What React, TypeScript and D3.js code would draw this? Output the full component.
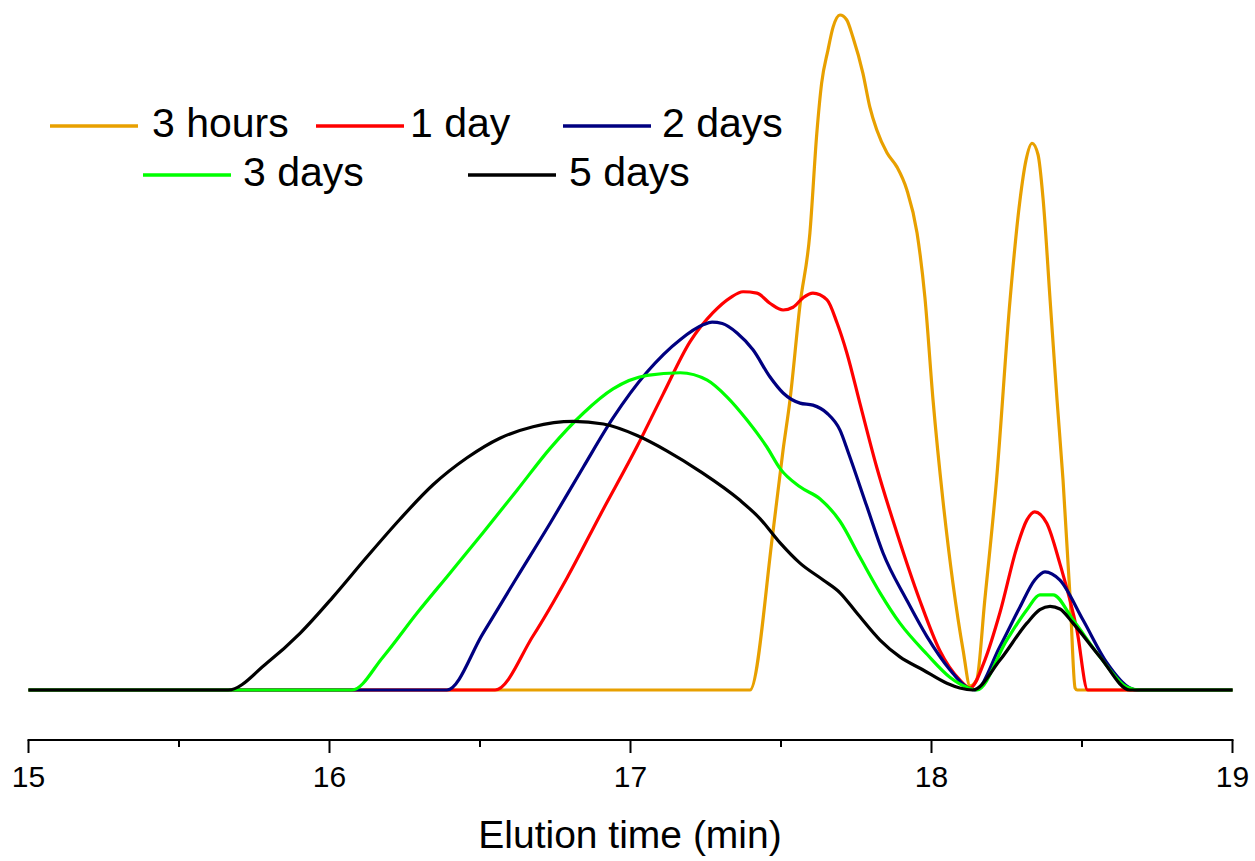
import React from "react";
import * as d3 from "d3";

// Elution profiles: [time (min), detector signal (a.u.)]
const hours3: [number, number][] = [
  [15, 0], [17.397, 0], [17.473, 23.3], [17.507, 35.6], [17.53, 43.0], [17.563, 57.0],
  [17.596, 67.7], [17.619, 82.5], [17.635, 89.9], [17.656, 94.8], [17.673, 98.2],
  [17.696, 100], [17.718, 99.3], [17.739, 96.7], [17.772, 91.4], [17.795, 86.4],
  [17.818, 83.0], [17.852, 79.6], [17.885, 77.5], [17.918, 74.1], [17.952, 67.7],
  [17.978, 58.2], [18.005, 43.0], [18.038, 28.1], [18.071, 15.9], [18.105, 5.9],
  [18.128, 0.6], [18.15, 1.5], [18.177, 13.3], [18.216, 31.1], [18.261, 57.8],
  [18.294, 72.6], [18.314, 78.5], [18.334, 81.0], [18.354, 79.3], [18.371, 72.6],
  [18.394, 57.8], [18.417, 43.0], [18.437, 31.1], [18.461, 13.3], [18.477, 0.3],
  [18.484, 0], [19, 0],
];

const day1: [number, number][] = [
  [15, 0], [16.55, 0], [16.676, 8.0], [16.789, 16.6], [16.899, 25.9], [17.022, 36.1],
  [17.108, 43.8], [17.198, 51.6], [17.274, 55.9], [17.331, 58.1],
  [17.374, 59.0], [17.42, 58.8], [17.463, 57.3], [17.507, 56.3], [17.54, 56.7],
  [17.573, 58.1], [17.606, 58.8], [17.653, 57.8], [17.686, 54.4], [17.719, 49.9],
  [17.762, 42.5], [17.818, 33.0], [17.885, 23.3], [17.961, 13.3], [18.027, 5.9],
  [18.094, 1.5], [18.128, 0.3], [18.177, 4.4], [18.227, 11.4], [18.284, 21.2],
  [18.317, 25.2], [18.343, 26.4], [18.383, 24.7], [18.426, 18.8], [18.483, 8.9],
  [18.519, 0], [19, 0],
];

const days2: [number, number][] = [
  [15, 0], [16.39, 0], [16.51, 8.4], [16.623, 16.7], [16.733, 24.7], [16.843, 33.0],
  [16.942, 40.3], [17.055, 47.1], [17.165, 51.9], [17.241, 54.1], [17.271, 54.5],
  [17.305, 54.3], [17.354, 52.9], [17.407, 50.4], [17.463, 46.4], [17.507, 44.0],
  [17.563, 42.5], [17.606, 42.2], [17.653, 41.0], [17.696, 38.5], [17.725, 35.0],
  [17.786, 27.1], [17.839, 20.3], [17.918, 13.3], [17.985, 7.9], [18.061, 3.0],
  [18.118, 0.4], [18.145, 0], [18.227, 6.4], [18.294, 12.3], [18.343, 16.3],
  [18.377, 17.5], [18.426, 16.3], [18.503, 10.4], [18.583, 4.0], [18.659, 0.3],
  [18.686, 0], [19, 0],
];

const days3: [number, number][] = [
  [15, 0], [16.075, 0], [16.178, 4.9], [16.291, 11.4], [16.4, 17.3], [16.51, 23.3],
  [16.623, 29.6], [16.733, 35.8], [16.843, 41.0], [16.942, 44.6], [17.055, 46.6],
  [17.165, 47.0], [17.255, 45.9], [17.321, 43.4], [17.387, 40.0], [17.453, 36.0],
  [17.497, 32.8], [17.563, 30.1], [17.63, 28.3], [17.696, 25.0], [17.762, 19.7],
  [17.829, 14.4], [17.895, 9.9], [17.985, 5.3], [18.061, 1.9], [18.118, 0.4],
  [18.151, 0], [18.25, 7.4], [18.317, 11.9], [18.36, 14.1], [18.404, 14.1],
  [18.47, 10.4], [18.56, 4.9], [18.65, 0.4], [18.693, 0], [19, 0],
];

const days5: [number, number][] = [
  [15, 0], [15.663, 0], [15.792, 4.0], [15.902, 8.4], [16.012, 13.8], [16.124, 19.7],
  [16.234, 25.3], [16.344, 30.4], [16.457, 34.4], [16.566, 37.3], [16.676, 39.0],
  [16.81, 39.8], [16.91, 39.4], [17.022, 37.7], [17.122, 35.4], [17.231, 32.4],
  [17.364, 28.1], [17.43, 25.4], [17.497, 21.8], [17.563, 18.8], [17.64, 16.3],
  [17.696, 14.4], [17.752, 11.4], [17.829, 7.4], [17.895, 4.9], [17.971, 3.0],
  [18.051, 1.0], [18.094, 0.3], [18.137, 0], [18.227, 4.4], [18.317, 9.9],
  [18.36, 11.9], [18.394, 12.4], [18.427, 12.0], [18.47, 9.9], [18.56, 4.9],
  [18.659, 0], [19, 0],
];

const seriesNames = ["3 hours", "1 day", "2 days", "3 days", "5 days"];
const seriesColors = ["#E8A000", "#FF0000", "#000080", "#00FF00", "#000000"];
const seriesData = [hours3, day1, days2, days3, days5];

const majorTicks = [15, 16, 17, 18, 19];
const minorTicks = [15.5, 16.5, 17.5, 18.5];
const xTitle = "Elution time (min)";

// Legend layout: [line start x, text x, baseline y]
const legendSlots: [number, number, number][] = [
  [50, 152, 137],
  [316, 410, 137],
  [563, 662, 137],
  [143, 243, 186],
  [468, 569, 186],
];

const W = 1255;
const H = 861;
const FONT = "'Liberation Sans', Arial, Helvetica, sans-serif";

export default function App() {
  const x = d3.scaleLinear().domain([15, 19]).range([28.5, 1232.5]);
  const y = d3.scaleLinear().domain([0, 100]).range([690, 15]);
  const line = d3
    .line<[number, number]>()
    .x((d) => x(d[0]))
    .y((d) => y(d[1]))
    .curve(d3.curveMonotoneX);

  const axisY = 740;

  return (
    <svg
      width={W}
      height={H}
      style={{ position: "absolute", left: 0, top: 0, background: "#fff" }}
      fontFamily={FONT}
    >
      <rect x={0} y={0} width={W} height={H} fill="#fff" />
      {seriesData.map((d, i) => (
        <path
          key={seriesNames[i]}
          d={line(d) || ""}
          fill="none"
          stroke={seriesColors[i]}
          strokeWidth={3.2}
          strokeLinejoin="round"
        />
      ))}

      {/* x axis */}
      <line x1={x(15) - 1} x2={x(19) + 1} y1={axisY} y2={axisY} stroke="#000" strokeWidth={2} />
      {majorTicks.map((t) => (
        <g key={"M" + t}>
          <line x1={x(t)} x2={x(t)} y1={axisY} y2={axisY + 13} stroke="#000" strokeWidth={2} />
          <text x={x(t)} y={787} textAnchor="middle" fontSize={30} fill="#000">
            {t}
          </text>
        </g>
      ))}
      {minorTicks.map((t) => (
        <line key={"m" + t} x1={x(t)} x2={x(t)} y1={axisY} y2={axisY + 7} stroke="#000" strokeWidth={2} />
      ))}
      <text x={630} y={848} textAnchor="middle" fontSize={39} fill="#000">
        {xTitle}
      </text>

      {/* legend */}
      {seriesNames.map((name, i) => {
        const [lx, tx, by] = legendSlots[i];
        return (
          <g key={"leg" + name}>
            <line x1={lx} x2={lx + 88} y1={by - 11} y2={by - 11} stroke={seriesColors[i]} strokeWidth={3.5} />
            <text x={tx} y={by} fontSize={41} fill="#000">
              {name}
            </text>
          </g>
        );
      })}
    </svg>
  );
}
